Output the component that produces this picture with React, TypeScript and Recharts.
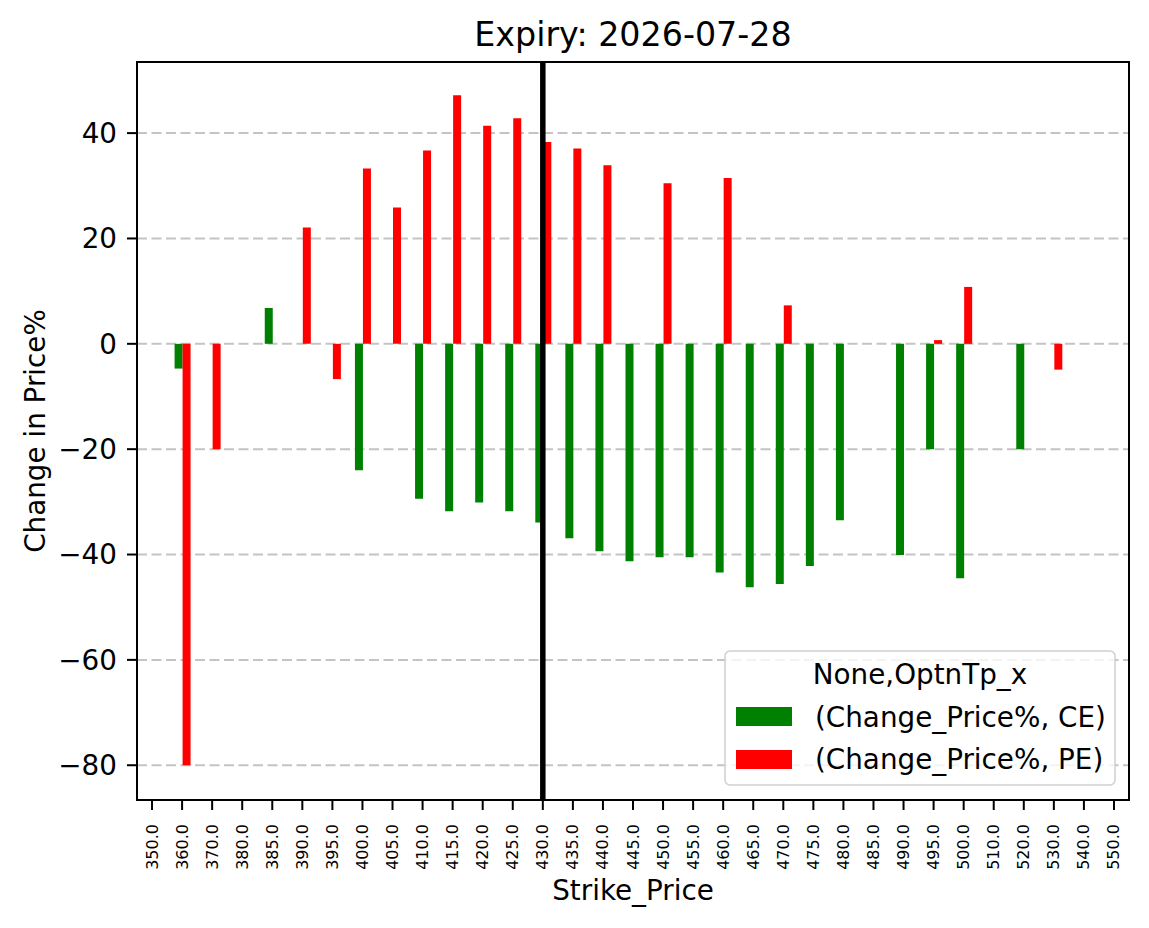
import React from 'react';
import { BarChart, Bar, XAxis, YAxis, CartesianGrid, ReferenceLine, Legend } from 'recharts';

// strike prices (x categories)
const strikes = [
  '350.0', '360.0', '370.0', '380.0', '385.0', '390.0', '395.0', '400.0', '405.0', '410.0', '415.0',
  '420.0', '425.0', '430.0', '435.0', '440.0', '445.0', '450.0', '455.0', '460.0', '465.0', '470.0',
  '475.0', '480.0', '485.0', '490.0', '495.0', '500.0', '510.0', '520.0', '530.0', '540.0', '550.0',
];

// (Change_Price%, CE)
const ceChange = [
  null, -4.7, null, null, 6.8, null, null, -24.0, null, -29.4, -31.8,
  -30.1, -31.8, -33.9, -36.9, -39.4, -41.3, -40.5, -40.5, -43.4, -46.2, -45.6,
  -42.2, -33.5, null, -40.1, -20.0, -44.5, null, -20.0, null, null, null,
];

// (Change_Price%, PE)
const peChange = [
  null, -80.0, -20.0, null, null, 22.1, -6.7, 33.3, 25.9, 36.7, 47.2,
  41.4, 42.8, 38.3, 37.1, 33.9, null, 30.5, null, 31.5, null, 7.3,
  null, null, null, null, 0.7, 10.8, null, null, -4.9, null, null,
];

const yTicks = [-80, -60, -40, -20, 0, 20, 40];
const spotStrike = '430.0';

const FONT = '"DejaVu Sans", sans-serif';

const chartData = strikes.map((s, i) => ({ strike: s, ce: ceChange[i], pe: peChange[i] }));

const fmtY = (v: number) => (v < 0 ? `\u2212${Math.abs(v)}` : `${v}`);

const XTick = (props: any) => {
  const { x, payload } = props;
  const y = 824;
  return (
    <text
      x={x}
      y={y}
      transform={`rotate(-90, ${x}, ${y})`}
      textAnchor="end"
      dominantBaseline="central"
      fontSize={16}
      fontFamily={FONT}
      fill="#000"
    >
      {payload.value}
    </text>
  );
};

const renderLegend = () => (
  <svg width={392} height={136} style={{ display: 'block' }}>
    <rect x={1} y={1} width={390} height={134} rx={5} ry={5} fill="#fff" fillOpacity={0.8} stroke="#d0d0d0" strokeWidth={1.5} />
    <text x={196} y={34} textAnchor="middle" fontSize={27.8} fontFamily={FONT} fill="#000">
      None,OptnTp_x
    </text>
    <rect x={12} y={57} width={56} height={19} fill="green" />
    <text x={91} y={77} fontSize={27.8} fontFamily={FONT} fill="#000">
      (Change_Price%, CE)
    </text>
    <rect x={12} y={100} width={56} height={19} fill="red" />
    <text x={91} y={119} fontSize={27.8} fontFamily={FONT} fill="#000">
      (Change_Price%, PE)
    </text>
  </svg>
);

export default function App() {
  return (
    <div style={{ position: 'absolute', left: 0, top: 0, width: 1149, height: 928, background: '#fff' }}>
      <BarChart
        width={1149}
        height={928}
        data={chartData}
        margin={{ top: 62, right: 20, bottom: 0, left: 0 }}
        barCategoryGap="25%"
        barGap={0}
      >
        <CartesianGrid vertical={false} stroke="#c4c4c4" strokeWidth={2} strokeDasharray="10 4.5" horizontalValues={yTicks} />
        <XAxis
          dataKey="strike"
          interval={0}
          height={128}
          tick={<XTick />}
          tickSize={10}
          tickLine={{ stroke: '#000', strokeWidth: 2 }}
          axisLine={false}
        />
        <YAxis
          width={137}
          domain={[-86.6, 53.5]}
          ticks={yTicks}
          tickFormatter={fmtY}
          tickSize={10}
          tickMargin={10}
          tick={{ fontSize: 27.8, fontFamily: FONT, fill: '#000' }}
          tickLine={{ stroke: '#000', strokeWidth: 2 }}
          axisLine={false}
          allowDataOverflow
        />
        <Bar dataKey="ce" name="(Change_Price%, CE)" fill="green" isAnimationActive={false} />
        <Bar dataKey="pe" name="(Change_Price%, PE)" fill="red" isAnimationActive={false} />
        <ReferenceLine x={spotStrike} stroke="#000" strokeWidth={5.5} />
        {/* axes frame */}
        <rect x={137} y={62} width={992} height={738} fill="none" stroke="#000" strokeWidth={2} />
        <Legend
          layout="horizontal"
          verticalAlign="middle"
          align="center"
          content={renderLegend}
          wrapperStyle={{ left: 724, top: 650, width: 392, height: 136 }}
        />
        <text x={633} y={46} textAnchor="middle" fontSize={33.3} fontFamily={FONT} fill="#000">
          Expiry: 2026-07-28
        </text>
        <text x={633} y={900} textAnchor="middle" fontSize={27.8} fontFamily={FONT} fill="#000">
          Strike_Price
        </text>
        <text
          x={45}
          y={431}
          transform="rotate(-90, 45, 431)"
          textAnchor="middle"
          fontSize={27.8}
          fontFamily={FONT}
          fill="#000"
        >
          Change in Price%
        </text>
      </BarChart>
    </div>
  );
}
